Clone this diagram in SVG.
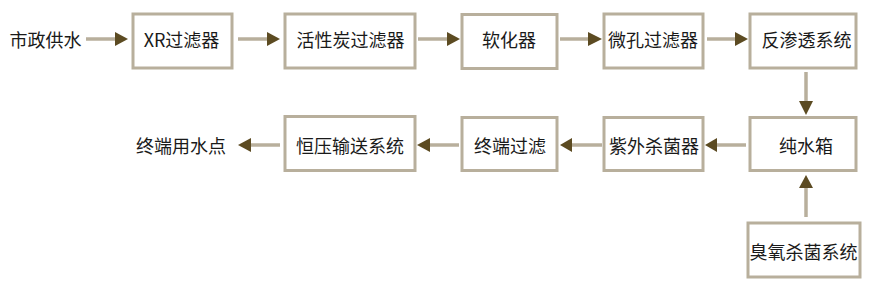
<svg xmlns="http://www.w3.org/2000/svg" width="880" height="286" viewBox="0 0 880 286">
<style>
.box{fill:#fff;stroke:#b8af9c;stroke-width:3}
.ln{stroke:#b8af9c;stroke-width:3.5;fill:none}
.ah{fill:#5c4b22}
text{font-family:"Noto Sans CJK SC","Noto Sans",sans-serif;font-size:18px;fill:#1a1a1a;text-anchor:middle;dominant-baseline:central}
</style>
<rect width="880" height="286" fill="#fff"/>
<g id="connectors">
<line class="ln" x1="86" y1="39" x2="116" y2="39"/><polygon class="ah" points="115,32 128,39 115,46"/>
<line class="ln" x1="238" y1="39" x2="268" y2="39"/><polygon class="ah" points="267,32 280,39 267,46"/>
<line class="ln" x1="418" y1="39" x2="448" y2="39"/><polygon class="ah" points="447,32 460,39 447,46"/>
<line class="ln" x1="560" y1="39" x2="589" y2="39"/><polygon class="ah" points="588,32 602,39 588,46"/>
<line class="ln" x1="707" y1="39" x2="736" y2="39"/><polygon class="ah" points="735,32 748,39 735,46"/>
<line class="ln" x1="806" y1="72" x2="806" y2="102"/><polygon class="ah" points="799,101 813,101 806,115"/>
<line class="ln" x1="806" y1="217" x2="806" y2="187"/><polygon class="ah" points="799,188 813,188 806,175"/>
<line class="ln" x1="746" y1="145" x2="716" y2="145"/><polygon class="ah" points="717,138 705,145 717,152"/>
<line class="ln" x1="602" y1="145" x2="571" y2="145"/><polygon class="ah" points="572,138 560,145 572,152"/>
<line class="ln" x1="459" y1="145" x2="429" y2="145"/><polygon class="ah" points="430,138 417,145 430,152"/>
<line class="ln" x1="280" y1="145" x2="250" y2="145"/><polygon class="ah" points="251,138 238,145 251,152"/>
</g>
<g id="src"><text x="45.5" y="39">市政供水</text></g>
<g id="xr"><rect class="box" x="133" y="14" width="99" height="54"/><text x="181.5" y="39">XR过滤器</text></g>
<g id="carbon"><rect class="box" x="285" y="14" width="130" height="54"/><text x="350.5" y="39">活性炭过滤器</text></g>
<g id="soft"><rect class="box" x="462" y="14.5" width="95" height="54"/><text x="509" y="39">软化器</text></g>
<g id="micro"><rect class="box" x="604" y="14" width="99" height="54"/><text x="653" y="39">微孔过滤器</text></g>
<g id="ro"><rect class="box" x="750" y="14" width="106" height="54"/><text x="806.5" y="39">反渗透系统</text></g>
<g id="tank"><rect class="box" x="750" y="117.5" width="106" height="53"/><text x="806" y="145">纯水箱</text></g>
<g id="ozone"><rect class="box" x="748" y="223" width="112" height="54"/><text x="803.5" y="251">臭氧杀菌系统</text></g>
<g id="uv"><rect class="box" x="604" y="117.5" width="99" height="53"/><text x="654" y="145">紫外杀菌器</text></g>
<g id="endfilter"><rect class="box" x="462" y="117.5" width="95" height="53"/><text x="510" y="145">终端过滤</text></g>
<g id="pump"><rect class="box" x="285" y="116.5" width="130" height="54"/><text x="350" y="145">恒压输送系统</text></g>
<g id="use"><text x="181" y="145">终端用水点</text></g>
</svg>
